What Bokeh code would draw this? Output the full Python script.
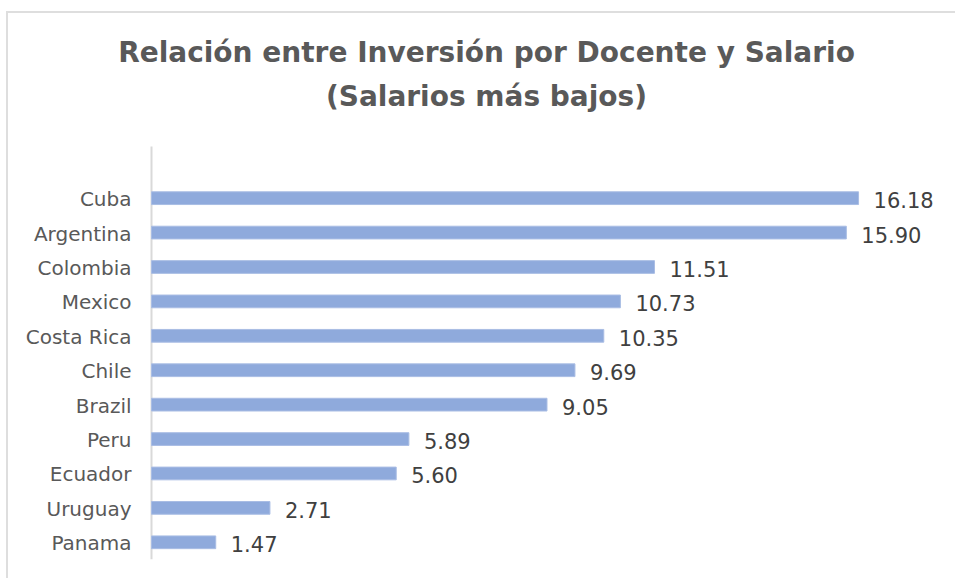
from bokeh.plotting import figure
from bokeh.models import ColumnDataSource, Range1d, Label
from bokeh.embed import file_html
from bokeh.resources import INLINE
from bokeh.core.properties import value

# Data (bottom to top)
countries = ["Panama", "Uruguay", "Ecuador", "Peru", "Brazil", "Chile",
             "Costa Rica", "Mexico", "Colombia", "Argentina", "Cuba"]
values = [1.47, 2.71, 5.60, 5.89, 9.05, 9.69, 10.35, 10.73, 11.51, 15.90, 16.18]
title_lines = ["Relación entre Inversión por Docente y Salario", "(Salarios más bajos)"]

pos = list(range(len(countries)))
labels = [f"{v:.2f}" for v in values]
src = ColumnDataSource(dict(y=pos, v=values, lab=labels, cat=countries))

FONT = "DejaVu Sans"
n = len(countries)
W, H = 949, 567
SLOT = 34.4          # px per category slot
PX_PER_UNIT = 43.7   # px per value unit
AXIS_X = 145         # px from the left of the plot area to the value axis
FRAME_W = W - 5
top_extra = 135 / SLOT + 1      # blank space above (one empty slot + title area)

p = figure(width=W, height=H, output_backend="svg", toolbar_location=None,
           x_range=Range1d(-AXIS_X / PX_PER_UNIT, (FRAME_W - AXIS_X) / PX_PER_UNIT),
           y_range=Range1d(-0.5, n - 0.5 + top_extra),
           min_border_left=0, min_border_right=5, min_border_top=0,
           min_border_bottom=19, tools="")
p.margin = (11, 0, 0, 6)
p.styles = {"box-shadow": "inset 2px 2px 0 0 #dedede"}
p.outline_line_color = None
p.grid.visible = False
p.xaxis.visible = False
p.yaxis.visible = False
p.border_fill_color = None
p.background_fill_color = None

# category axis line over the category slots (plus one empty slot on top)
p.segment(x0=[0], y0=[-0.5], x1=[0], y1=[n + 0.5], line_color="#d9d9d9", line_width=2)

p.hbar(y="y", right="v", left=0, height=0.37, source=src,
       fill_color="#8FAADC", line_color="#A9BDE4", line_width=1)

# value labels
p.text(x="v", y="y", text="lab", source=src, x_offset=15, y_offset=2,
       text_font=value(FONT), text_font_size="21px", text_color="#404040",
       text_baseline="middle", text_align="left")

# category labels
p.text(x=0, y="y", text="cat", source=src, x_offset=-20, y_offset=1,
       text_font=value(FONT), text_font_size="20px", text_color="#595959",
       text_baseline="middle", text_align="right")

for i, t in enumerate(title_lines):
    p.add_layout(Label(x=480, y=507 - 44 * i, x_units="screen", y_units="screen",
                       text=t, text_align="center", text_baseline="middle",
                       text_font=FONT, text_font_style="bold",
                       text_font_size="28px", text_color="#595959"))

open("out.html", "w").write(file_html(p, INLINE))
